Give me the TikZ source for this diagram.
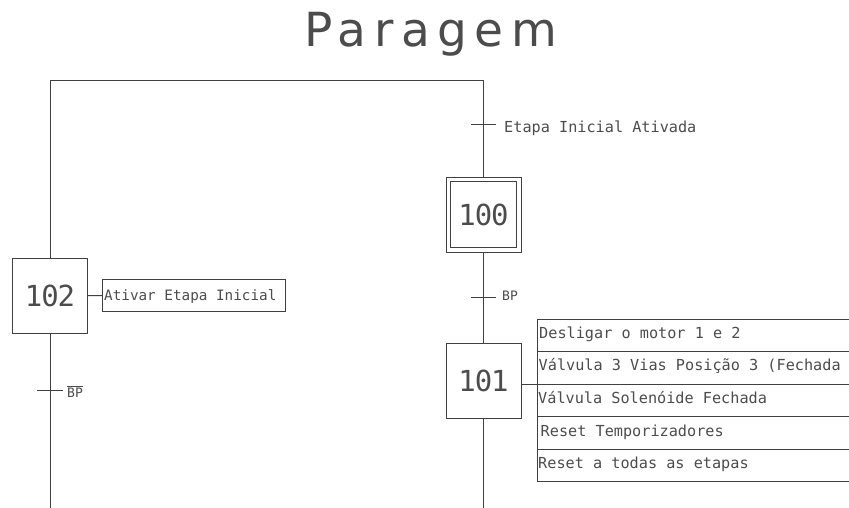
\documentclass[tikz,border=0pt]{standalone}
\usepackage{fontspec}
\setmainfont{DejaVu Sans Mono}
\newfontfamily\labelfont{DejaVu Sans Mono}
\newfontfamily\titlefont{DejaVu Sans}[LetterSpace=16]
\newfontfamily\numfont{DejaVu Sans Mono}[LetterSpace=-4]
\definecolor{ink}{gray}{0.30}
\definecolor{wire}{gray}{0.25}
\tikzset{
  wires/.style={draw=wire, line width=1pt},
  lbl/.style={font=\labelfont\fontsize{15.2}{18}\selectfont, text=ink, inner sep=0pt, anchor=base west},
  small/.style={font=\labelfont\fontsize{13}{15}\selectfont, text=ink, inner sep=0pt, anchor=base west},
  stepbox/.style={wires, minimum size=75pt, inner sep=0pt, font=\numfont\fontsize{29}{32}\selectfont, text=ink},
  actrow/.style={wires, anchor=north west, inner sep=0pt, minimum height=32.4pt, minimum width=#1},
  actrow/.default=380pt,
}
\begin{document}
\begin{tikzpicture}[x=1pt, y=-1pt]
\useasboundingbox (0,0) rectangle (849,507);
\clip (0,0) rectangle (849,507);

% title
\node[font=\titlefont\fontsize{47}{50}\selectfont, text=ink, inner sep=0pt, anchor=base west] (title) at (304,46) {Paragem};

% steps
\node[stepbox] (b100) at (483.5,214.5) {100};
\draw[wires] ([shift={(5,5)}]b100.north west) rectangle ([shift={(-5,-5)}]b100.south east);
\node[stepbox] (b101) at (483.5,380.5) {101};
\node[stepbox] (b102) at (50,295.5) {102};

% loop back from step 102 to the initial step
\coordinate (top) at (0,80);
\coordinate (endR) at (483.5,510);
\coordinate (endL) at (50,510);
\draw[wires] (b102.north) -- (b102.north |- top) -- (b100.north |- top) -- (b100.north);
\draw[wires] (b100.south) -- (b101.north);
\draw[wires] (b101.south) -- (endR);
\draw[wires] (b102.south) -- (endL);

% transitions
\coordinate (t1) at (483.5,124);
\coordinate (t2) at (483.5,297);
\coordinate (t3) at (50,390);
\draw[wires] ([xshift=-12.5]t1) -- ([xshift=12.5]t1);
\draw[wires] ([xshift=-12.5]t2) -- ([xshift=12.5]t2);
\draw[wires] ([xshift=-13]t3) -- ([xshift=13]t3);
\node[lbl] (l1) at (504,132) {Etapa Inicial Ativada};
\node[small] (l2) at (502,300) {BP};
\node[small] (l3) at (67,397) {$\overline{\hbox{BP}}$};

% action of step 102
\node[actrow=183pt] (a102) at (102,279) {};
\node[lbl, font=\labelfont\fontsize{14.3}{17}\selectfont] (a102t) at ([shift={(2,21)}]a102.north west) {Ativar Etapa Inicial};
\draw[wires] (b102.east) -- (a102.west);

% actions of step 101
\node[actrow] (r1) at (537,319) {};
\node[actrow] (r2) at (537,351.4) {};
\node[actrow] (r3) at (537,383.8) {};
\node[actrow] (r4) at (537,416.2) {};
\node[actrow] (r5) at (537,448.6) {};
\node[lbl] (r1t) at ([shift={(2,19.8)}]r1.north west) {Desligar o motor 1 e 2};
\node[lbl] (r2t) at ([shift={(1.5,19.5)}]r2.north west) {Válvula 3 Vias Posição 3 (Fechada};
\node[lbl] (r3t) at ([shift={(1,19.5)}]r3.north west) {Válvula Solenóide Fechada};
\node[lbl] (r4t) at ([shift={(3.5,19.8)}]r4.north west) {Reset Temporizadores};
\node[lbl] (r5t) at ([shift={(1,19.5)}]r5.north west) {Reset a todas as etapas};
\draw[wires] (b101.east |- r2.south west) -- (r2.south west);
\end{tikzpicture}
\end{document}
